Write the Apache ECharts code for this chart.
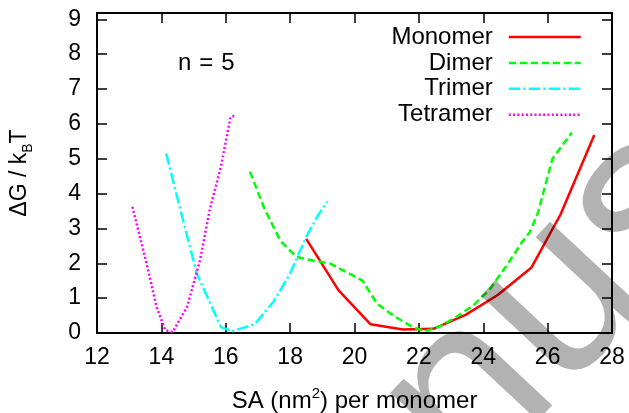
<!DOCTYPE html>
<html>
<head>
<meta charset="utf-8">
<script src="https://cdn.jsdelivr.net/npm/echarts@6/dist/echarts.min.js"></script>
<style>
  html, body { margin: 0; padding: 0; background: #fff; }
  #chart { width: 629px; height: 413px; }
</style>
</head>
<body>
<div id="chart"></div>
<script>
// Free-energy profiles, n = 5
const monomerSA  = [18.5, 19.5, 20.5, 21.5, 22.45, 23.45, 24.45, 25.5, 26.4, 27.45];
const monomerDG  = [2.7, 1.23, 0.25, 0.1, 0.12, 0.52, 1.09, 1.88, 3.4, 5.68];

const dimerSA    = [16.75, 17.2, 17.7, 18.2, 18.7, 19.25, 20.25, 20.7, 21.2, 21.8, 22.2, 22.6, 23.2, 23.7, 24.2, 24.7, 25.2, 25.45, 25.7, 26.15, 26.75];
const dimerDG    = [4.63, 3.57, 2.64, 2.18, 2.08, 1.99, 1.5, 0.84, 0.5, 0.17, 0.05, 0.17, 0.48, 0.8, 1.25, 1.9, 2.6, 2.9, 3.45, 5.0, 5.75];

const trimerSA   = [14.15, 14.6, 15.1, 15.85, 16.2, 16.9, 17.5, 18.0, 18.5, 18.85, 19.15];
const trimerDG   = [5.15, 3.5, 1.71, 0.17, 0.05, 0.25, 0.92, 1.71, 2.76, 3.35, 3.77];

const tetramerSA = [13.1, 13.55, 13.85, 14.12, 14.35, 14.8, 15.2, 15.5, 15.85, 16.15, 16.3];
const tetramerDG = [3.62, 1.95, 0.75, 0.08, 0.03, 0.75, 2.09, 3.53, 4.77, 6.2, 6.23];

const seriesNames = ['Monomer', 'Dimer', 'Trimer', 'Tetramer'];
const xTicks = { min: 12, max: 28, step: 2 };
const yTicks = { min: 0, max: 9.18, step: 1 };

const FONT = '"Liberation Sans", Arial, Helvetica, sans-serif';

function pairs(xs, ys) { return xs.map((x, i) => [x, ys[i]]); }

const chart = echarts.init(document.getElementById('chart'), null, { renderer: 'canvas' });

const axisCommon = {
  type: 'value',
  axisLine: { show: true, onZero: false, lineStyle: { color: '#000', width: 2 } },
  axisTick: { show: true, inside: true, length: 10, lineStyle: { color: '#000', width: 1.5 } },
  splitLine: { show: false }
};

function lineSeries(name, xs, ys, color, dash) {
  return {
    name: name,
    type: 'line',
    data: pairs(xs, ys),
    symbol: 'none',
    showSymbol: false,
    smooth: false,
    animation: false,
    lineStyle: { color: color, width: 2.5, type: dash, cap: 'butt' },
    itemStyle: { color: color },
    z: 3
  };
}

const option = {
  backgroundColor: '#fff',
  animation: false,
  textStyle: { fontFamily: FONT },
  grid: { left: 97, right: 17, top: 13, bottom: 80, containLabel: false, outerBoundsMode: 'none' },
  legend: {
    data: seriesNames,
    orient: 'vertical',
    align: 'right',
    right: 42,
    top: 20,
    itemWidth: 72,
    itemHeight: 14,
    itemGap: 1.9,
    textStyle: { fontSize: 24, color: '#000', fontFamily: FONT, lineHeight: 20, padding: [0, 11, 0, 0] },
    itemStyle: { opacity: 0 },
    lineStyle: { width: 2.5 },
    selectedMode: false
  },
  xAxis: [
    Object.assign({}, axisCommon, {
      position: 'bottom',
      min: xTicks.min, max: xTicks.max, interval: xTicks.step,
      axisLabel: { fontSize: 23, color: '#000', margin: 13, fontFamily: FONT },
      name: 'SA (nm{sup|2}) per monomer',
      nameLocation: 'middle',
      nameGap: 53,
      nameTextStyle: {
        fontSize: 24, color: '#000', fontFamily: FONT, lineHeight: 30,
        rich: { sup: { fontSize: 15, verticalAlign: 'top', lineHeight: 30, padding: [0, 0, 12, 0], color: '#000', fontFamily: FONT } }
      }
    }),
    Object.assign({}, axisCommon, {
      position: 'top',
      min: xTicks.min, max: xTicks.max, interval: xTicks.step,
      axisLabel: { show: false }
    })
  ],
  yAxis: [
    Object.assign({}, axisCommon, {
      position: 'left',
      min: yTicks.min, max: yTicks.max, interval: yTicks.step,
      axisLabel: { fontSize: 23, color: '#000', margin: 16, showMaxLabel: false, fontFamily: FONT },
      name: 'ΔG / k{sub|B}T',
      nameLocation: 'middle',
      nameRotate: 90,
      nameGap: 62,
      nameTextStyle: {
        fontSize: 23, color: '#000', fontFamily: FONT, lineHeight: 30,
        rich: { sub: { fontSize: 14, verticalAlign: 'bottom', lineHeight: 30, padding: [10, 0, 0, 0], color: '#000', fontFamily: FONT } }
      }
    }),
    Object.assign({}, axisCommon, {
      position: 'right',
      min: yTicks.min, max: yTicks.max, interval: yTicks.step,
      axisLabel: { show: false }
    })
  ],
  series: [
    lineSeries('Monomer', monomerSA, monomerDG, '#ff0000', 'solid'),
    lineSeries('Dimer', dimerSA, dimerDG, '#00ff00', [7.3, 3.7]),
    lineSeries('Trimer', trimerSA, trimerDG, '#00ffff', [11.5, 3, 2.2, 3.3]),
    lineSeries('Tetramer', tetramerSA, tetramerDG, '#ff00ff', [2, 2.3])
  ],
  graphic: [
    {
      type: 'text',
      x: 178, y: 63,
      z: 10,
      style: {
        text: '{a|n}{b|=}{a|5}',
        verticalAlign: 'middle',
        align: 'left',
        rich: {
          a: { fontSize: 24, fontFamily: FONT, fill: '#000' },
          b: { fontSize: 24, fontFamily: FONT, fill: '#000', padding: [0, 8, 0, 8] }
        }
      }
    },
    {
      type: 'text',
      x: 196, y: 690,
      rotation: 0.82,
      z: 100,
      silent: true,
      style: {
        text: 'Manuscript',
        font: '240px "Liberation Sans", Arial, sans-serif',
        fill: 'rgba(0,0,0,0.3)',
        align: 'left',
        verticalAlign: 'middle'
      }
    }
  ]
};

chart.setOption(option);
</script>
</body>
</html>
